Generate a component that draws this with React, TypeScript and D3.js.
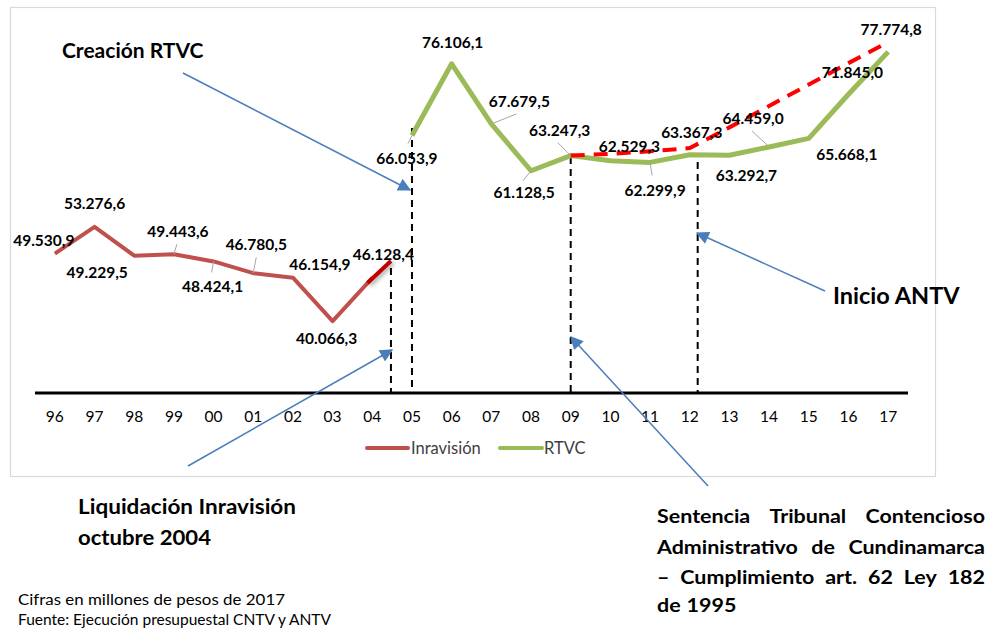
import React, { useEffect, useRef } from "react";
import * as d3 from "d3";

// años (eje x)
const years = ["96", "97", "98", "99", "00", "01", "02", "03", "04", "05", "06", "07", "08", "09", "10", "11", "12", "13", "14", "15", "16", "17"];

// Inravisión 1996-2004
const inravisionYears = ["96", "97", "98", "99", "00", "01", "02", "03", "04"];
const inravisionValues = [49530.9, 53276.6, 49229.5, 49443.6, 48424.1, 46780.5, 46154.9, 40066.3, 46128.4];

// RTVC 2005-2017
const rtvcYears = ["05", "06", "07", "08", "09", "10", "11", "12", "13", "14", "15", "16", "17"];
const rtvcValues = [66053.9, 76106.1, 67679.5, 61128.5, 63247.3, 62529.3, 62299.9, 63367.3, 63292.7, 64459.0, 65668.1, 71845.0, 77774.8];

// tendencia (línea roja punteada)
const trendYears = ["09", "10", "11", "12", "13", "14", "15", "16", "17"];
const trendValues = [63247.3, 63500, 63850, 64300, 67200, 70200, 73200, 76200, 79150];

// label placement (dx, dy from point to label centre) and optional leader end
const inravisionLabelPos = [[-11, -13], [0, -23], [-37, 17], [4, -23], [-1, 25], [3, -29], [27, -13], [-6, 17], [11, -23]];
const inravisionLeaders = [null, null, null, [3, -10], [-2, 11], [3, -16], null, null, null];
const rtvcLabelPos = [[-5, 23], [1, -21], [28, -22], [-7, 22], [-11, -25], [19, -14], [5, 28], [2, -22], [17, 20], [-16, -28], [38, 16], [4, -22], [3, -22]];
const rtvcLeaders = [[-4, 8], null, [25, -10], [-8, 10], [-13, -13], null, [2, 13], null, null, [-17, -16], null, null, null];

const fmt = d3.formatLocale({ decimal: ",", thousands: ".", grouping: [3], currency: ["$", ""] }).format(",.1f");

const FONT = "Lato, 'Open Sans', sans-serif";
const BLUE = "#4a7ebb";

const W = 988;
const H = 628;

const justified = [
  { text: "Sentencia Tribunal Contencioso", y: 523, justify: true },
  { text: "Administrativo de Cundinamarca", y: 554, justify: true },
  { text: "– Cumplimiento art. 62 Ley 182", y: 584, justify: true },
  { text: "de 1995", y: 612, justify: false },
];

export default function App() {
  const noteRef = useRef<SVGGElement>(null);

  const x = d3.scalePoint<string>().domain(years).range([35, 908]).padding(0.5);
  const y = d3.scaleLinear().domain([30000, 80000]).range([393, 36]);
  const step = x.step();

  const line = d3.line<[string, number]>().x(d => x(d[0])!).y(d => y(d[1]));

  const inra = inravisionYears.map((yr, i) => [yr, inravisionValues[i]] as [string, number]);
  const rtvc = rtvcYears.map((yr, i) => [yr, rtvcValues[i]] as [string, number]);
  const trend = trendYears.map((yr, i) => [yr, trendValues[i]] as [string, number]);

  // extension of Inravisión to oct 2004
  const x03 = x("03")!, y03 = y(inravisionValues[7]);
  const x04 = x("04")!, y04 = y(inravisionValues[8]);
  const extStart: [number, number] = [x03 + (x04 - x03) * 0.88, y03 + (y04 - y03) * 0.88];
  const extEnd: [number, number] = [x04 + step * 0.47, y(48490)];

  const markers = [
    { x: x04 + step * 0.47, top: 47500 },
    { x: x("05")!, top: 67100 },
    { x: x("09")!, top: 63050 },
    { x: x("12")! + step * 0.2, top: 62350 },
  ];

  const arrows = [
    { from: [183, 73], to: [410, 190] },
    { from: [188, 466], to: [392, 350] },
    { from: [708, 486], to: [571, 337] },
    { from: [825, 291], to: [697, 233] },
  ];

  useEffect(() => {
    const g = d3.select(noteRef.current);
    g.selectAll("*").remove();
    const left = 657, right = 985;
    justified.forEach(l => {
      const words = l.text.split(" ");
      const nodes = words.map(w =>
        g.append("text").attr("y", l.y).attr("font-family", FONT).attr("font-weight", 700)
          .attr("font-size", 19.5).attr("fill", "#000").text(w)
      );
      // the reference font is a bit wider than Lato, stretch words slightly
      const widths = nodes.map(n => (n.node() as SVGTextElement).getComputedTextLength() * 1.1);
      nodes.forEach((n, i) => n.attr("textLength", widths[i]).attr("lengthAdjust", "spacingAndGlyphs"));
      const total = d3.sum(widths);
      const gap = l.justify ? (right - left - total) / (words.length - 1) : 6;
      let cx = left;
      nodes.forEach((n, i) => {
        n.attr("x", cx);
        cx += widths[i] + gap;
      });
    });
  }, []);

  const label = (px: number, py: number, v: number, pos: number[], leader: number[] | null, key: string) => (
    <g key={key}>
      {leader && (
        <line x1={px} y1={py} x2={px + leader[0]} y2={py + leader[1]} stroke="#a6a6a6" strokeWidth={1} />
      )}
      <text x={px + pos[0]} y={py + pos[1]} dy="0.35em" textAnchor="middle" fontFamily={FONT}
        fontWeight={700} fontSize={15.5} fill="#000">{fmt(v)}</text>
    </g>
  );

  return (
    <div style={{ position: "absolute", left: 0, top: 0 }}>
      <svg width={W} height={H} style={{ display: "block", background: "#fff" }}>
        <defs>
          <marker id="arrowHead" viewBox="0 0 10 10" refX="9" refY="5" markerWidth="14" markerHeight="13"
            markerUnits="userSpaceOnUse" orient="auto">
            <path d="M0,0 L10,5 L0,10 z" fill={BLUE} />
          </marker>
          <filter id="shadow" x="-30%" y="-30%" width="160%" height="160%">
            <feGaussianBlur in="SourceAlpha" stdDeviation="2" />
            <feOffset dx="2" dy="2" result="b" />
            <feFlood floodColor="#000" floodOpacity="0.35" />
            <feComposite in2="b" operator="in" />
            <feMerge>
              <feMergeNode />
              <feMergeNode in="SourceGraphic" />
            </feMerge>
          </filter>
        </defs>

        <rect x={10.5} y={7.5} width={925} height={469} fill="#fff" stroke="#d9d9d9" strokeWidth={1.2} />

        {/* eje */}
        <line x1={35} x2={908} y1={y(30000)} y2={y(30000)} stroke="#000" strokeWidth={3} />
        {years.map(yr => (
          <text key={yr} x={x(yr)} y={y(30000) + 24} dy="0.35em" textAnchor="middle" fontFamily={FONT}
            fontSize={15.5} fill="#000">{yr}</text>
        ))}

        {/* líneas verticales punteadas */}
        {markers.map((m, i) => (
          <line key={i} x1={m.x} x2={m.x} y1={y(m.top)} y2={y(30000)} stroke="#000" strokeWidth={2}
            strokeDasharray="7,5" />
        ))}

        {/* series */}
        <path d={line(inra)!} fill="none" stroke="#c0504d" strokeWidth={4} strokeLinejoin="round" />
        <path d={`M${extStart[0]},${extStart[1]}L${extEnd[0]},${extEnd[1]}`} stroke="#c00000" strokeWidth={4}
          filter="url(#shadow)" />
        <path d={line(rtvc)!} fill="none" stroke="#9bbb59" strokeWidth={5} strokeLinejoin="round" />
        <path d={line(trend)!} fill="none" stroke="#ff0000" strokeWidth={4} strokeDasharray="14,9" />

        {/* etiquetas */}
        {inra.map((d, i) => label(x(d[0])!, y(d[1]), d[1], inravisionLabelPos[i], inravisionLeaders[i], "i" + i))}
        {rtvc.map((d, i) => label(x(d[0])!, y(d[1]), d[1], rtvcLabelPos[i], rtvcLeaders[i], "r" + i))}

        {/* leyenda */}
        <line x1={367} x2={408} y1={448} y2={448} stroke="#c0504d" strokeWidth={4} strokeLinecap="round" />
        <text x={411} y={448} dy="0.35em" fontFamily={FONT} fontSize={16.5} fill="#404040">Inravisión</text>
        <line x1={500} x2={542} y1={448} y2={448} stroke="#9bbb59" strokeWidth={4} strokeLinecap="round" />
        <text x={544} y={448} dy="0.35em" fontFamily={FONT} fontSize={16.5} fill="#404040">RTVC</text>

        {/* flechas */}
        {arrows.map((a, i) => (
          <line key={i} x1={a.from[0]} y1={a.from[1]} x2={a.to[0]} y2={a.to[1]} stroke={BLUE} strokeWidth={1.5}
            markerEnd="url(#arrowHead)" />
        ))}

        {/* anotaciones */}
        <text x={62} y={58} fontFamily={FONT} fontWeight={700} fontSize={21} fill="#000">Creación RTVC</text>
        <text x={833} y={304} fontFamily={FONT} fontWeight={700} fontSize={23.5} fill="#000">Inicio ANTV</text>
        <text x={78} y={514} fontFamily={FONT} fontWeight={700} fontSize={20} textLength={218}
          lengthAdjust="spacingAndGlyphs" fill="#000">Liquidación Inravisión</text>
        <text x={78} y={545} fontFamily={FONT} fontWeight={700} fontSize={20} textLength={133}
          lengthAdjust="spacingAndGlyphs" fill="#000">octubre 2004</text>
        <g ref={noteRef} />
        <text x={18} y={605} fontFamily={FONT} fontSize={15.5} textLength={267}
          lengthAdjust="spacingAndGlyphs" fill="#000">Cifras en millones de pesos de 2017</text>
        <text x={18} y={625} fontFamily={FONT} fontSize={15.5} textLength={313}
          lengthAdjust="spacingAndGlyphs" fill="#000">Fuente: Ejecución presupuestal CNTV y ANTV</text>
      </svg>
    </div>
  );
}
